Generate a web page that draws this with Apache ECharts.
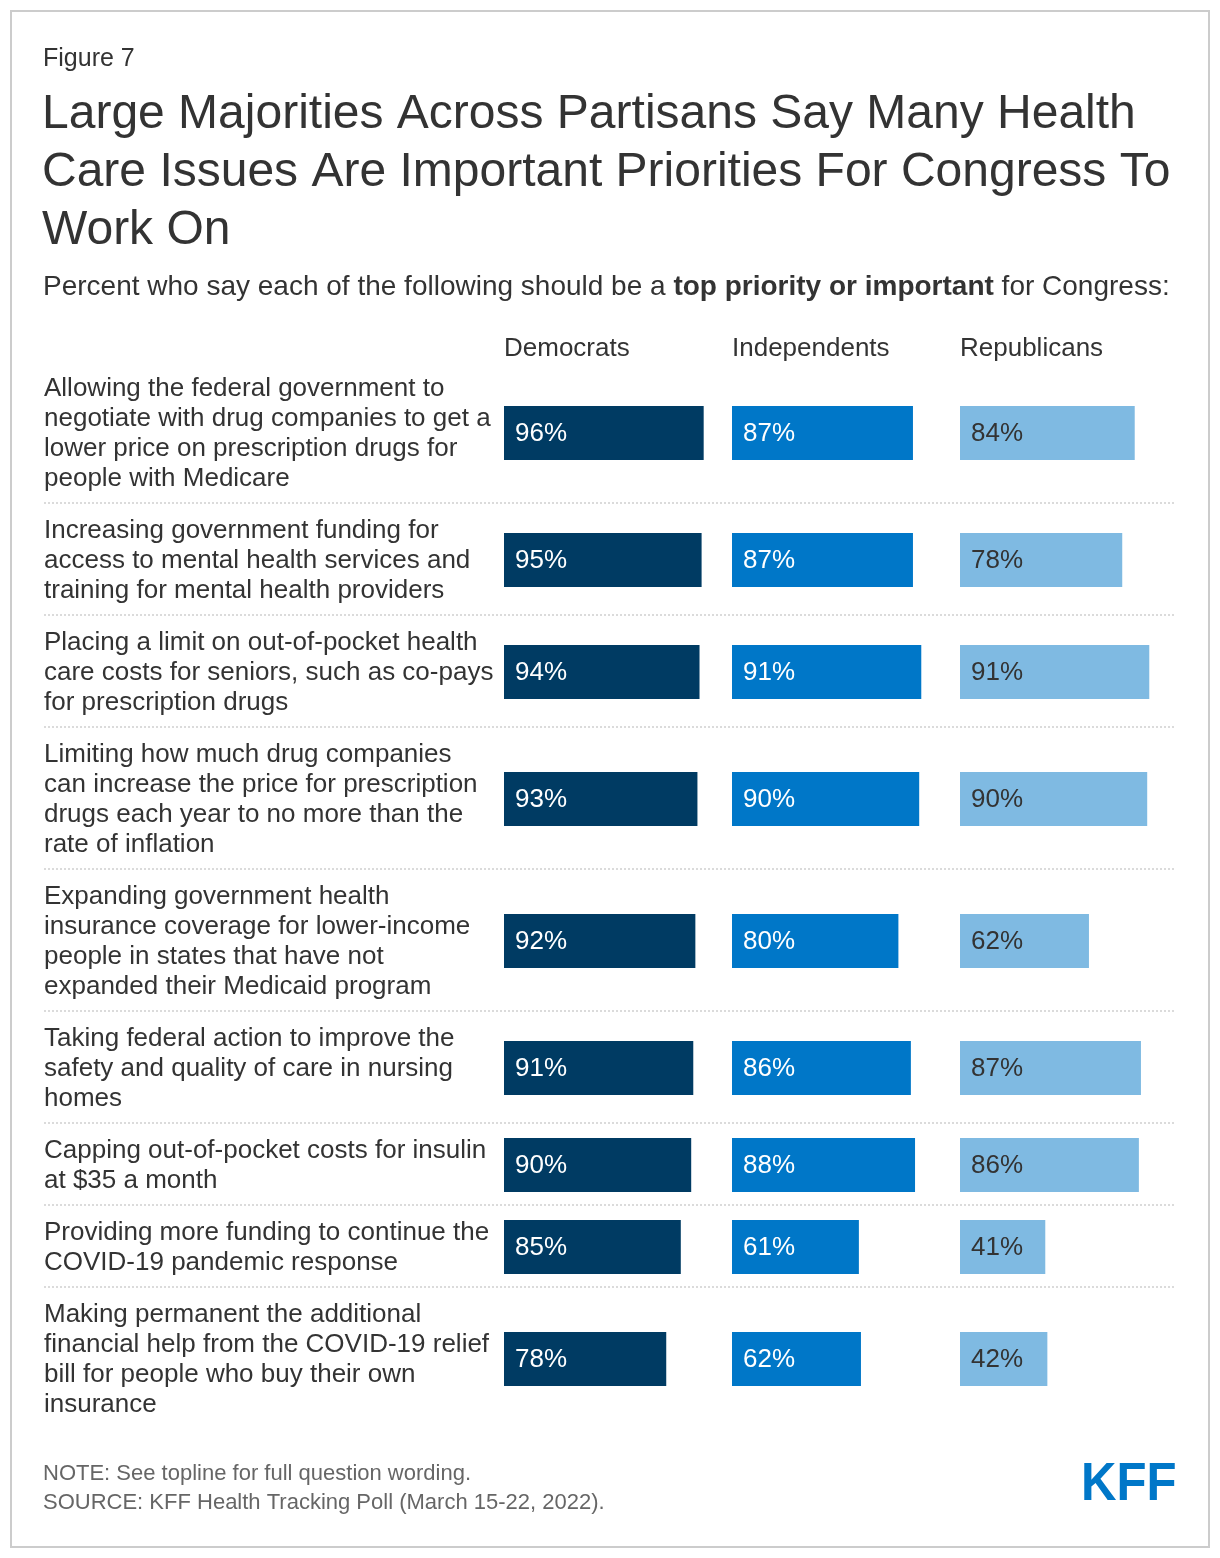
<!DOCTYPE html>
<html><head><meta charset="utf-8">
<script src="https://cdn.jsdelivr.net/npm/echarts@6/dist/echarts.min.js"></script>
<style>html,body{margin:0;padding:0;background:#fff}#c{width:1220px;height:1558px}</style>
</head><body><div id="c"></div>
<script>
const categories = [
  "Allowing the federal government to\nnegotiate with drug companies to get a\nlower price on prescription drugs for\npeople with Medicare",
  "Increasing government funding for\naccess to mental health services and\ntraining for mental health providers",
  "Placing a limit on out-of-pocket health\ncare costs for seniors, such as co-pays\nfor prescription drugs",
  "Limiting how much drug companies\ncan increase the price for prescription\ndrugs each year to no more than the\nrate of inflation",
  "Expanding government health\ninsurance coverage for lower-income\npeople in states that have not\nexpanded their Medicaid program",
  "Taking federal action to improve the\nsafety and quality of care in nursing\nhomes",
  "Capping out-of-pocket costs for insulin\nat $35 a month",
  "Providing more funding to continue the\nCOVID-19 pandemic response",
  "Making permanent the additional\nfinancial help from the COVID-19 relief\nbill for people who buy their own\ninsurance"
];
const democrats = [96, 95, 94, 93, 92, 91, 90, 85, 78];
const independents = [87, 87, 91, 90, 80, 86, 88, 61, 62];
const republicans = [84, 78, 91, 90, 62, 87, 86, 41, 42];
const seriesNames = ["Democrats", "Independents", "Republicans"];

const FONT = '"Liberation Sans", Arial, Helvetica, sans-serif';
const LINE_H = 30, ROW_PAD = 22, BAR_H = 54;
const lineCounts = categories.map(c => c.split('\n').length);
const rowHeights = lineCounts.map(n => ROW_PAD + LINE_H * n);
const rowStarts = [];
let acc = 0;
rowHeights.forEach(h => { rowStarts.push(acc); acc += h; });
const total = acc;
const rowCenters = rowStarts.map((s, i) => s + rowHeights[i] / 2);

const GRID_TOP = 362, COL_LEFT = [504, 732, 960], COL_W = 208;
const LABEL_X = 44, RULE_X2 = 1176;
const colors = ['#003B63', '#0077C8', '#7FBAE2'];
const labelColors = ['#ffffff', '#ffffff', '#333333'];
const values = [democrats, independents, republicans];

const chart = echarts.init(document.getElementById('c'), null, {renderer: 'canvas'});

const grids = COL_LEFT.map(l => ({left: l, top: GRID_TOP, width: COL_W, height: total}));
const xAxes = COL_LEFT.map((l, i) => ({type: 'value', gridIndex: i, min: 0, max: 100, show: false}));
const yAxes = COL_LEFT.map((l, i) => ({type: 'value', gridIndex: i, min: 0, max: total, inverse: true, show: false}));

const barSeries = values.map((vals, i) => ({
  type: 'custom',
  name: seriesNames[i],
  xAxisIndex: i, yAxisIndex: i,
  data: vals.map((v, j) => [v, rowCenters[j]]),
  encode: {x: 0, y: 1},
  silent: true,
  renderItem: function (params, api) {
    const v = api.value(0), yc = api.value(1);
    const p0 = api.coord([0, yc]);
    const p1 = api.coord([v, yc]);
    return {
      type: 'group',
      children: [
        {type: 'rect', shape: {x: p0[0], y: p0[1] - BAR_H / 2, width: p1[0] - p0[0], height: BAR_H}, style: {fill: colors[i]}},
        {type: 'text', x: p0[0] + 11, y: p0[1] + 1, style: {text: v + '%', fill: labelColors[i], font: '26px ' + FONT, verticalAlign: 'middle', align: 'left'}}
      ]
    };
  }
}));

const labelSeries = {
  type: 'custom',
  xAxisIndex: 0, yAxisIndex: 0,
  data: categories.map((c, j) => [0, rowCenters[j], j]),
  encode: {x: 0, y: 1},
  silent: true,
  renderItem: function (params, api) {
    const yc = api.value(1), idx = api.value(2);
    const p = api.coord([0, yc]);
    return {type: 'text', x: LABEL_X, y: p[1] + 1, style: {text: categories[idx], fill: '#333333', font: '26px ' + FONT, lineHeight: LINE_H, verticalAlign: 'middle', align: 'left'}};
  }
};

const ruleSeries = {
  type: 'custom',
  xAxisIndex: 0, yAxisIndex: 0,
  data: rowStarts.slice(1).map(s => [0, s]),
  encode: {x: 0, y: 1},
  silent: true,
  renderItem: function (params, api) {
    const p = api.coord([0, api.value(1)]);
    return {type: 'line', shape: {x1: LABEL_X, y1: p[1] - 1, x2: RULE_X2, y2: p[1] - 1}, style: {stroke: '#c4c4c4', lineWidth: 1.2, lineDash: [2, 2]}};
  }
};

const headerTitles = seriesNames.map((n, i) => ({
  text: n, left: COL_LEFT[i], top: 335, padding: 0,
  textStyle: {fontSize: 26, fontWeight: 'normal', color: '#333333', fontFamily: FONT, lineHeight: 28}
}));

chart.setOption({
  backgroundColor: '#ffffff',
  animation: false,
  title: [
    {text: 'Figure 7', left: 43, top: 45, padding: 0, textStyle: {fontSize: 25, fontWeight: 'normal', color: '#333333', fontFamily: FONT, lineHeight: 28}},
    {text: 'Large Majorities Across Partisans Say Many Health\nCare Issues Are Important Priorities For Congress To\nWork On', left: 42, top: 86, padding: 0,
     textStyle: {fontSize: 48, fontWeight: 'normal', color: '#333333', fontFamily: FONT, lineHeight: 58}},
    {text: '{a|Percent who say each of the following should be a }{b|top priority or important}{a| for Congress:}', left: 43, top: 272, padding: 0,
     textStyle: {fontWeight: 'normal', rich: {a: {fontSize: 28, fontWeight: 'normal', color: '#333333', fontFamily: FONT, lineHeight: 30}, b: {fontSize: 28, color: '#333333', fontWeight: 'bold', fontFamily: FONT, lineHeight: 30}}}},
    ...headerTitles,
    {text: 'NOTE: See topline for full question wording.\nSOURCE: KFF Health Tracking Poll (March 15-22, 2022).', left: 43, top: 1459, padding: 0,
     textStyle: {fontSize: 22, fontWeight: 'normal', color: '#666666', fontFamily: FONT, lineHeight: 29}}
  ],
  graphic: [
    {type: 'rect', shape: {x: 11, y: 11, width: 1198, height: 1536}, style: {fill: 'none', stroke: '#cccccc', lineWidth: 2}, silent: true},
    {type: 'text', x: 1081, y: 1485, scaleX: 0.91, style: {text: 'KFF', font: 'bold 54px ' + FONT, fill: '#0077C8', verticalAlign: 'middle', align: 'left'}, silent: true}
  ],
  grid: grids,
  xAxis: xAxes,
  yAxis: yAxes,
  series: [ruleSeries, labelSeries, ...barSeries]
});
</script>
</body></html>
